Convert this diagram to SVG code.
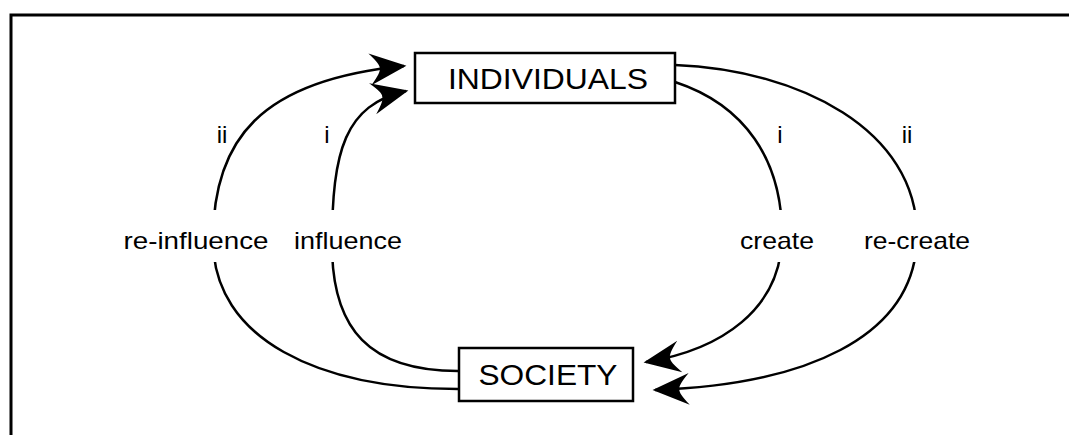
<svg xmlns="http://www.w3.org/2000/svg" width="1069" height="435" viewBox="0 0 1069 435">
<style>
.frame{fill:none;stroke:#000;stroke-width:3}
.box{fill:#fff;stroke:#000;stroke-width:2.5}
.conn{fill:none;stroke:#000;stroke-width:2.5}
.lbl{font-family:"Liberation Sans",Arial,sans-serif;font-size:24px;fill:#000;text-anchor:middle}
.node{font-family:"Liberation Sans",Arial,sans-serif;font-size:29px;fill:#000;text-anchor:middle}
.mask{fill:#fff;stroke:none}
</style>
<defs>
<marker id="ah" markerUnits="userSpaceOnUse" markerWidth="44" markerHeight="44" viewBox="-32 -16 36 32" refX="0" refY="0" orient="auto">
<path d="M2,0 L-28,-13 Q-19,-3 -20,0 Q-19,3 -28,13 Z" fill="#000"/>
</marker>
</defs>
<rect width="1069" height="435" fill="#fff"/>
<path class="frame" d="M11,435 L11,15 L1069,15"/>
<g id="connectors">
<path class="conn" d="M458,389 C 320,389 213,340 213,240 C 213,140 260,80 404,66" marker-end="url(#ah)"/>
<path class="conn" d="M458,371 C 370,371 332,330 332,245 C 332,150 345,105 406,91" marker-end="url(#ah)"/>
<path class="conn" d="M675,82 C 745,105 782,160 782,235 C 782,310 720,350 646,362" marker-end="url(#ah)"/>
<path class="conn" d="M675,65 C 800,70 917,130 917,235 C 917,340 800,385 655,390" marker-end="url(#ah)"/>
</g>
<g id="labels">
<rect class="mask" x="112" y="210" width="165" height="52"/>
<rect class="mask" x="288" y="210" width="118" height="52"/>
<rect class="mask" x="736" y="210" width="86" height="52"/>
<rect class="mask" x="858" y="210" width="118" height="52"/>
<text class="lbl" x="222" y="143">ii</text>
<text class="lbl" x="327" y="143">i</text>
<text class="lbl" x="780" y="143">i</text>
<text class="lbl" x="907" y="143">ii</text>
<text class="lbl" x="196" y="249" textLength="145" lengthAdjust="spacingAndGlyphs">re-influence</text>
<text class="lbl" x="348" y="249" textLength="108" lengthAdjust="spacingAndGlyphs">influence</text>
<text class="lbl" x="777" y="249" textLength="74" lengthAdjust="spacingAndGlyphs">create</text>
<text class="lbl" x="917" y="249" textLength="106" lengthAdjust="spacingAndGlyphs">re-create</text>
</g>
<g id="individuals">
<rect class="box" x="415" y="53" width="260" height="50"/>
<text class="node" x="548" y="89" textLength="200" lengthAdjust="spacingAndGlyphs">INDIVIDUALS</text>
</g>
<g id="society">
<rect class="box" x="459" y="348" width="174" height="53"/>
<text class="node" x="548" y="385" textLength="139" lengthAdjust="spacingAndGlyphs">SOCIETY</text>
</g>
</svg>
